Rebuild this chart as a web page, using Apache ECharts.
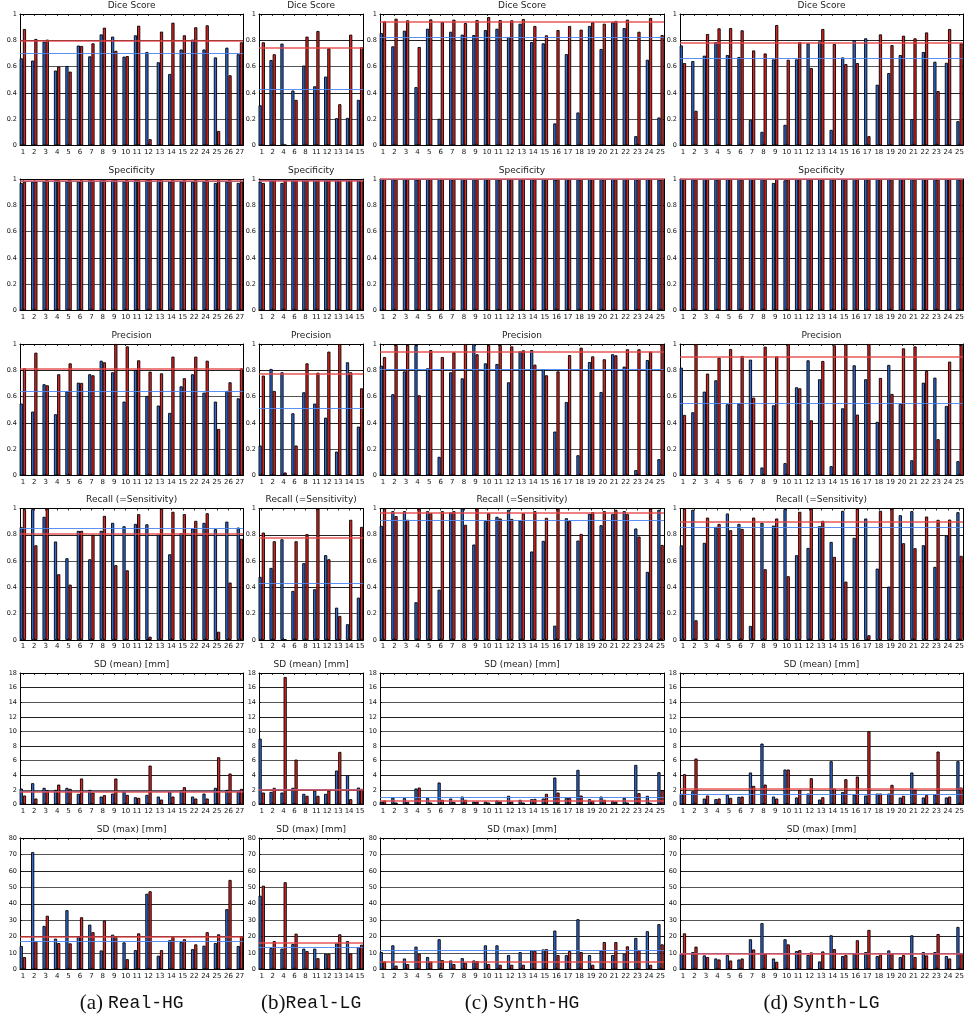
<!DOCTYPE html>
<html>
<head>
<meta charset="utf-8">
<script src="https://cdn.jsdelivr.net/npm/echarts@6/dist/echarts.min.js"></script>
<style>
  html, body { margin: 0; padding: 0; background: #fff; }
  #chart { width: 969px; height: 1021px; }
</style>
</head>
<body>
<div id="chart"></div>
<script>
// ---- category labels (patient / case ids) ----
const catsRealHG = ['1','2','3','4','5','6','7','8','9','10','11','12','13','14','15','22','24','25','26','27'];
const catsRealLG = ['1','2','4','6','8','11','12','13','14','15'];
const catsSynth = ['1','2','3','4','5','6','7','8','9','10','11','12','13','14','15','16','17','18','19','20','21','22','23','24','25'];

// ---- panel titles, y scales, captions ----
const metricTitles = ['Dice Score', 'Specificity', 'Precision', 'Recall (=Sensitivity)', 'SD (mean) [mm]', 'SD (max) [mm]'];
const yMaxes = [1, 1, 1, 1, 18, 80];
const ySteps = [0.2, 0.2, 0.2, 0.2, 2, 10];
const captionTags = ['(a)', '(b)', '(c)', '(d)'];
const captionNames = ['Real-HG', 'Real-LG', 'Synth-HG', 'Synth-LG'];

// ---- Real-HG ----
const rhDiceB = [0.663,0.646,0.79,0.57,0.605,0.76,0.678,0.845,0.828,0.676,0.838,0.711,0.633,0.544,0.73,0.805,0.73,0.67,0.744,0.694];
const rhDiceR = [0.886,0.81,0.805,0.60,0.562,0.757,0.777,0.896,0.72,0.68,0.911,0.048,0.866,0.934,0.838,0.899,0.914,0.111,0.534,0.785];
const rhSpecB = [0.97,0.98,0.98,0.99,0.98,0.98,0.99,0.99,0.99,0.98,0.99,0.99,0.99,0.98,0.98,0.98,0.98,0.97,0.98,0.97];
const rhSpecR = [0.98,0.98,0.99,0.99,0.99,0.99,0.99,0.99,0.99,0.99,0.99,1.0,0.99,0.99,0.99,0.99,0.99,0.99,0.99,0.98];
const rhPrecB = [0.547,0.486,0.694,0.466,0.64,0.706,0.77,0.873,0.785,0.562,0.803,0.605,0.532,0.476,0.678,0.77,0.63,0.562,0.643,0.587];
const rhPrecR = [0.815,0.934,0.686,0.77,0.853,0.704,0.762,0.861,1.0,0.982,0.876,0.79,0.777,0.904,0.74,0.904,0.873,0.354,0.709,0.815];
const rhRecB = [0.858,0.995,0.937,0.749,0.622,0.83,0.614,0.83,0.891,0.865,0.883,0.88,0.802,0.652,0.812,0.848,0.891,0.843,0.90,0.855];
const rhRecR = [0.995,0.72,1.0,0.5,0.421,0.83,0.8,0.944,0.569,0.53,0.957,0.025,1.0,0.975,0.957,0.906,0.964,0.063,0.437,0.77];
const rhSdMeanB = [2.19,2.92,2.28,2.0,2.28,1.46,2.0,1.09,1.5,1.82,1.0,1.32,1.09,1.78,1.91,1.09,1.5,2.28,2.0,1.73];
const rhSdMeanR = [1.23,0.82,1.96,2.73,2.14,3.56,1.64,1.28,3.56,1.32,0.91,5.33,0.68,1.09,2.37,0.82,0.82,6.47,4.24,2.14];
const rhSdMaxB = [14.3,71.4,26.5,18.8,36.1,20.2,27.3,11.6,21.2,16.5,11.8,46.1,8.4,17.8,16.7,12.4,14.5,16.1,36.7,14.3];
const rhSdMaxR = [7.6,17.3,32.7,16.1,15.9,31.8,22.7,29.8,19.8,6.3,22.0,47.6,11.8,19.8,18.4,15.3,22.7,21.4,54.5,20.2];
const rhMeanB = [0.704, 0.98, 0.635, 0.85, 1.83, 17.3];
const rhMeanR = [0.795, 0.99, 0.805, 0.812, 1.78, 19.8];

// ---- Real-LG ----
const rlDiceB = [0.306,0.65,0.775,0.418,0.608,0.45,0.524,0.208,0.21,0.347];
const rlDiceR = [0.785,0.694,0.008,0.347,0.828,0.871,0.739,0.314,0.843,0.747];
const rlSpecB = [0.98,0.99,0.97,1.0,0.99,1.0,1.0,1.0,1.0,0.99];
const rlSpecR = [0.97,0.99,1.0,1.0,1.0,1.0,1.0,1.0,1.0,1.0];
const rlPrecB = [0.228,0.81,0.785,0.473,0.633,0.547,0.44,0.182,0.861,0.372];
const rlPrecR = [0.76,0.643,0.023,0.228,0.853,0.782,0.942,1.0,0.785,0.663];
const rlRecB = [0.48,0.548,0.766,0.373,0.584,0.386,0.645,0.246,0.12,0.322];
const rlRecR = [0.817,0.751,0.005,0.751,0.805,1.0,0.614,0.183,0.914,0.86];
const rlSdMeanB = [9.02,1.73,1.64,2.28,1.46,1.91,1.46,4.65,4.01,2.32];
const rlSdMeanR = [1.64,2.28,17.46,6.15,1.19,1.19,1.91,7.2,0.73,2.14];
const rlSdMaxB = [44.9,13.1,12.7,15.5,12.7,12.7,9.6,15.9,17.3,13.7];
const rlSdMaxR = [51.0,17.3,53.1,21.8,11.2,6.9,9.6,21.4,9.8,15.1];
const rlMeanB = [0.435, 0.99, 0.509, 0.431, 2.1, 13.3];
const rlMeanR = [0.742, 0.99, 0.77, 0.782, 2.05, 16.3];

// ---- Synth-HG ----
const shDiceB = [0.855,0.754,0.873,0.444,0.888,0.203,0.865,0.843,0.84,0.878,0.888,0.825,0.926,0.787,0.777,0.168,0.695,0.251,0.909,0.734,0.937,0.893,0.071,0.652,0.213];
const shDiceR = [0.944,0.964,0.952,0.749,0.959,0.939,0.957,0.931,0.954,0.977,0.954,0.952,0.962,0.909,0.838,0.878,0.909,0.881,0.937,0.926,0.947,0.957,0.865,0.97,0.84];
const shSpecB = [1,1,1,0.998,1,1,1,1,1,1,1,1,1,1,1,0.995,1,1,1,1,1,1,1,1,0.995];
const shSpecR = [1,1,1,1,1,1,1,1,1,1,1,1,1,1,1,1,1,1,1,1,1,1,1,1,1];
const shPrecB = [0.835,0.618,0.792,0.992,0.815,0.142,0.785,0.739,1.0,0.853,0.848,0.709,0.944,0.954,0.808,0.334,0.559,0.154,0.863,0.635,0.922,0.828,0.041,0.878,0.124];
const shPrecR = [0.901,0.992,0.992,0.61,0.954,0.901,0.937,1.0,0.922,0.992,0.992,0.982,0.952,0.843,0.762,0.792,0.916,0.972,0.906,0.884,0.914,0.96,0.96,0.942,1.0];
const shRecB = [0.868,0.98,0.98,0.287,0.98,0.383,0.97,1.0,0.726,0.904,0.937,0.99,0.909,0.673,0.754,0.109,0.926,0.756,0.959,0.873,0.957,0.98,0.848,0.518,0.99];
const shRecR = [1.0,0.942,0.914,1.0,0.964,0.98,0.98,0.876,1.0,0.964,0.924,0.921,0.964,0.98,0.929,1.0,0.904,0.807,0.972,0.98,0.99,0.957,0.787,1.0,0.723];
const shSdMeanB = [0.41,0.96,0.87,2.19,0.91,3.01,0.82,1.09,0.41,0.41,0.55,1.19,0.64,0.73,0.82,3.69,0.91,4.74,0.73,1.09,0.5,0.91,5.42,1.19,4.42];
const shSdMeanR = [0.55,0.27,0.36,2.32,0.27,0.64,0.36,0.64,0.41,0.27,0.41,0.41,0.27,0.77,1.46,1.64,0.91,1.23,0.5,0.64,0.41,0.27,1.55,0.23,1.96];
const shSdMaxB = [10.6,14.7,6.7,13.9,7.6,18.4,5.5,6.9,5.5,14.7,14.7,8.8,10.6,11.8,12.2,23.7,8.8,30.6,8.8,11.6,8.8,9.6,19.2,23.3,27.6];
const shSdMaxR = [4.9,2.4,3.3,9.6,4.9,5.7,3.3,4.1,5.1,3.3,2.9,2.9,2.9,11.4,12.4,8.8,11.2,10.6,2.9,16.7,16.7,14.1,11.8,2.9,15.3];
const shMeanB = [0.822, 0.999, 0.805, 0.911, 0.96, 11.6];
const shMeanR = [0.942, 0.999, 0.942, 0.967, 0.48, 4.9];

// ---- Synth-LG ----
const slDiceB = [0.761,0.642,0.683,0.787,0.688,0.673,0.195,0.104,0.655,0.157,0.655,0.777,0.792,0.119,0.67,0.802,0.815,0.462,0.551,0.688,0.2,0.711,0.637,0.629,0.185];
const slDiceR = [0.627,0.264,0.848,0.891,0.893,0.876,0.723,0.70,0.916,0.652,0.787,0.589,0.886,0.772,0.619,0.627,0.071,0.845,0.764,0.835,0.815,0.86,0.414,0.886,0.777];
const slSpecB = [1,1,1,1,1,1,1,1,0.97,0.99,1,1,1,1,1,1,1,1,1,1,1,1,1,1,1];
const slSpecR = [1,1,1,1,1,1,1,1,1,1,1,1,1,1,1,1,1,1,1,1,1,1,1,1,1];
const slPrecB = [0.82,0.481,0.638,0.724,0.542,0.549,0.881,0.061,0.534,0.094,0.671,0.876,0.732,0.071,0.511,0.838,0.732,0.408,0.841,0.544,0.116,0.706,0.744,0.529,0.109];
const slPrecR = [0.461,1.0,0.775,0.896,0.962,0.909,0.592,0.98,0.906,1.0,0.663,0.42,0.871,0.99,1.0,0.463,1.0,0.742,0.62,0.967,0.982,0.795,0.276,0.866,0.992];
const slRecB = [0.72,0.99,0.739,0.86,0.962,0.883,0.107,0.891,0.87,0.995,0.645,0.7,0.865,0.746,0.982,0.777,0.924,0.543,0.406,0.949,0.98,0.721,0.556,0.794,0.972];
const slRecR = [1.0,0.15,0.931,0.883,0.835,0.845,0.931,0.538,0.924,0.485,0.975,1.0,0.906,0.632,0.444,1.0,0.036,0.982,1.0,0.736,0.698,0.939,0.914,0.916,0.64];
const slSdMeanB = [1.46,1.82,0.82,0.73,1.32,1.05,4.38,8.34,1.09,4.79,0.96,1.5,0.68,5.93,1.69,1.37,1.23,1.5,1.5,0.96,4.38,0.96,1.37,0.96,5.93];
const slSdMeanR = [4.15,6.29,1.23,0.82,0.91,1.09,2.55,2.73,0.82,4.79,2.0,3.6,1.0,2.19,3.46,3.83,10.03,1.5,2.69,1.19,2.05,1.28,7.25,1.09,2.32];
const slSdMaxB = [9.8,10.6,8.6,6.7,8.8,6.1,18.4,28.2,6.7,18.4,11.2,8.8,4.9,20.8,8.2,9.6,10.6,8.2,11.6,7.6,20.8,10.6,10.6,8.2,25.9];
const slSdMaxR = [22.0,13.9,7.6,6.1,5.5,6.7,12.2,9.8,4.7,15.3,11.8,10.4,11.0,12.4,8.8,17.8,24.1,9.0,9.8,8.8,7.6,8.6,21.6,6.7,9.8];
const slMeanB = [0.655, 0.998, 0.549, 0.86, 1.37, 9.9];
const slMeanR = [0.779, 0.999, 0.899, 0.904, 2.19, 9.8];

// ---- assemble columns (one per data set) ----
const columns = [
  { cats: catsRealHG, blue: [rhDiceB, rhSpecB, rhPrecB, rhRecB, rhSdMeanB, rhSdMaxB], red: [rhDiceR, rhSpecR, rhPrecR, rhRecR, rhSdMeanR, rhSdMaxR], meanB: rhMeanB, meanR: rhMeanR },
  { cats: catsRealLG, blue: [rlDiceB, rlSpecB, rlPrecB, rlRecB, rlSdMeanB, rlSdMaxB], red: [rlDiceR, rlSpecR, rlPrecR, rlRecR, rlSdMeanR, rlSdMaxR], meanB: rlMeanB, meanR: rlMeanR },
  { cats: catsSynth, blue: [shDiceB, shSpecB, shPrecB, shRecB, shSdMeanB, shSdMaxB], red: [shDiceR, shSpecR, shPrecR, shRecR, shSdMeanR, shSdMaxR], meanB: shMeanB, meanR: shMeanR },
  { cats: catsSynth, blue: [slDiceB, slSpecB, slPrecB, slRecB, slSdMeanB, slSdMaxB], red: [slDiceR, slSpecR, slPrecR, slRecR, slSdMeanR, slSdMaxR], meanB: slMeanB, meanR: slMeanR }
];

// ---- layout ----
const colLeft = [20, 259, 380, 680];
const colRight = [243.3, 363.3, 664, 963];
const rowTop = [14, 179, 344, 508.5, 673, 838];
const plotH = 131.5;
const sans = 'DejaVu Sans';
const BLUE = '#2f6ad9', RED = '#e3231f';

const option = { animation: false, grid: [], xAxis: [], yAxis: [], series: [], title: [] };

columns.forEach((col, ci) => {
  const n = col.cats.length;
  const idx = col.cats.map((_, i) => i);
  for (let ri = 0; ri < 6; ri++) {
    const g = option.grid.length;
    const left = colLeft[ci], width = colRight[ci] - colLeft[ci];
    option.grid.push({ left: left, top: rowTop[ri], width: width, height: plotH, containLabel: false });

    const xBase = {
      type: 'value', gridIndex: g, min: -0.25, max: n - 1 + 0.3,
      splitLine: { show: false },
      axisLine: { show: true, onZero: false, lineStyle: { color: '#000', width: 1 } },
      axisTick: { show: true, inside: true, length: 2, customValues: idx, lineStyle: { color: '#000', width: 0.8 } }
    };
    option.xAxis.push(Object.assign({}, xBase, {
      position: 'bottom',
      axisLabel: { show: true, customValues: idx, formatter: v => col.cats[v], fontSize: 7, fontFamily: sans, color: '#111', margin: 3 }
    }));
    option.xAxis.push(Object.assign({}, xBase, { position: 'top', axisLabel: { show: false } }));

    const yBase = {
      type: 'value', gridIndex: g, min: 0, max: yMaxes[ri], interval: ySteps[ri],
      axisLine: { show: true, onZero: false, lineStyle: { color: '#000', width: 1 } },
      axisTick: { show: true, inside: true, length: 2, lineStyle: { color: '#000', width: 0.8 } }
    };
    option.yAxis.push(Object.assign({}, yBase, {
      position: 'left',
      splitLine: { show: true, lineStyle: { color: ['#222', '#555'], width: 1.1 } },
      axisLabel: { show: true, fontSize: 6.5, fontFamily: sans, color: '#111', margin: 3 }
    }));
    option.yAxis.push(Object.assign({}, yBase, { position: 'right', splitLine: { show: false }, axisLabel: { show: false } }));

    const xi = option.xAxis.length - 2, yi = option.yAxis.length - 2;
    const mkBar = (vals, color, mean, lineColor, lineW) => ({
      type: 'bar', xAxisIndex: xi, yAxisIndex: yi,
      data: vals.map((v, i) => [i, v]),
      barWidth: 3.2, barGap: '0%',
      itemStyle: { color: color, borderColor: '#000', borderWidth: 0.9 },
      markLine: {
        silent: true, symbol: 'none', label: { show: false },
        lineStyle: { color: lineColor, width: lineW, type: 'solid', opacity: 0.9 },
        data: [{ yAxis: mean }]
      }
    });
    option.series.push(mkBar(col.blue[ri], BLUE, col.meanB[ri], '#4d84f0', 1.2));
    option.series.push(mkBar(col.red[ri], RED, col.meanR[ri], '#e64545', 1.6));

    option.title.push({
      text: metricTitles[ri], left: left + width / 2, top: rowTop[ri] - 13, textAlign: 'center', padding: 0,
      textStyle: { fontSize: 9, fontWeight: 'normal', fontFamily: sans, color: '#222' }
    });
  }
  const cx = (colLeft[ci] + colRight[ci]) / 2;
  const sep = ci === 1 ? '' : ' ';
  option.title.push({
    text: '{p|' + captionTags[ci] + '}' + sep + '{n|' + captionNames[ci] + '}',
    left: cx, top: 993, textAlign: 'center', padding: 0,
    textStyle: {
      fontWeight: 'normal',
      rich: {
        p: { fontFamily: 'Liberation Serif', fontSize: 21, fontWeight: 'normal', color: '#111' },
        n: { fontFamily: 'Liberation Mono', fontSize: 18, fontWeight: 'normal', color: '#111' }
      }
    }
  });
});

const chart = echarts.init(document.getElementById('chart'), null, { renderer: 'canvas' });
chart.setOption(option);
</script>
</body>
</html>
